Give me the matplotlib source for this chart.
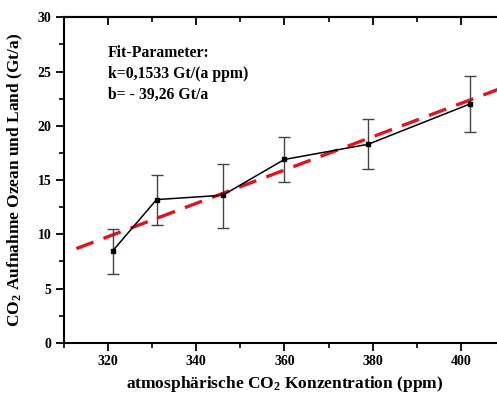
import numpy as np
import matplotlib.pyplot as plt
from matplotlib.ticker import MultipleLocator

co2_ppm = [321, 331, 346, 360, 379, 402]
aufnahme = [8.45, 13.2, 13.6, 16.9, 18.3, 22.0]
err_unten = [2.1, 2.3, 3.0, 2.1, 2.3, 2.6]
err_oben = [2.05, 2.3, 2.9, 2.1, 2.35, 2.6]

fit_x = [312.8, 412]
fit_y = [8.68, 23.9]

fit_text = ["Fit-Parameter:", "k=0,1533 Gt/(a ppm)", "b= - 39,26 Gt/a"]

plt.rcParams["font.family"] = ["Liberation Serif", "DejaVu Serif"]
plt.rcParams["font.weight"] = "bold"
plt.rcParams["mathtext.fontset"] = "custom"
plt.rcParams["mathtext.rm"] = "Liberation Serif:bold"
plt.rcParams["mathtext.it"] = "Liberation Serif:bold"
plt.rcParams["mathtext.bf"] = "Liberation Serif:bold"

fig = plt.figure(figsize=(4.97, 3.94), dpi=100)
ax = fig.add_axes([0.1288, 0.130, 0.887, 0.826])

ax.plot(fit_x, fit_y, color="#e0141e", lw=2.4, ls=(0, (5.5, 3.2)), zorder=1)
ax.errorbar(co2_ppm, aufnahme, yerr=[err_unten, err_oben], fmt="-s", color="black",
            ms=3.5, lw=1.1, ecolor="#444444", elinewidth=1.0, capsize=4, capthick=1.0,
            zorder=2)

ax.set_xlim(310, 410)
ax.set_ylim(0, 30)
ax.xaxis.set_major_locator(MultipleLocator(20))
ax.xaxis.set_minor_locator(MultipleLocator(10))
ax.yaxis.set_major_locator(MultipleLocator(5))
ax.yaxis.set_minor_locator(MultipleLocator(2.5))

for s in ["left", "bottom", "top"]:
    ax.spines[s].set_linewidth(1.5)
ax.spines["right"].set_visible(False)

ax.tick_params(axis="both", which="major", direction="out", length=6, width=1.3,
               labelsize=10, pad=3)
ax.tick_params(axis="both", which="minor", direction="out", length=3.5, width=1.2)

top = ax.secondary_xaxis("top")
top.xaxis.set_major_locator(MultipleLocator(20))
top.xaxis.set_minor_locator(MultipleLocator(10))
top.tick_params(which="major", direction="in", length=6, width=1.3, labeltop=False)
top.tick_params(which="minor", direction="in", length=3.5, width=1.2)
top.spines["top"].set_linewidth(1.5)

ax.set_xlabel("atmosphärische CO$_2$ Konzentration (ppm)", fontsize=12.5,
              fontweight="bold", labelpad=4)
ax.set_ylabel("CO$_2$ Aufnahme Ozean und Land (Gt/a)", fontsize=12.5,
              fontweight="bold", labelpad=9)

ax.text(0.10, 0.915, "\n".join(fit_text), transform=ax.transAxes, fontsize=11.3,
        fontweight="bold", va="top", ha="left", linespacing=1.42)

fig.savefig("out.png", dpi=100)
